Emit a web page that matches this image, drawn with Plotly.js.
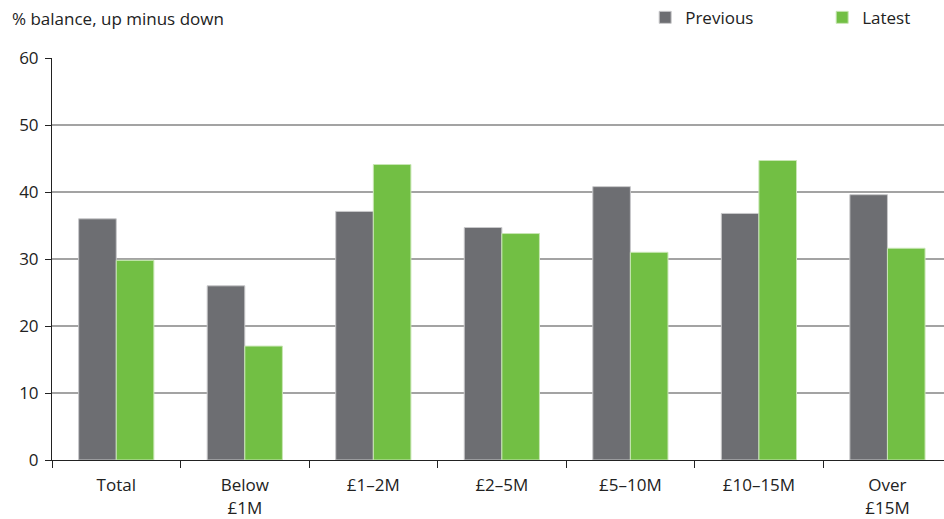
<!DOCTYPE html>
<html><head><meta charset="utf-8">
<script src="https://cdn.plot.ly/plotly-3.0.1.min.js"></script>
<style>html,body{margin:0;padding:0;overflow:hidden;background:#fff}</style>
</head><body><div id="chart" style="width:944px;height:519px"></div>
<script>
const categories = ["Total", "Below<br>£1M", "£1–2M", "£2–5M", "£5–10M", "£10–15M", "Over<br>£15M"];
const previous = [36.0, 26.0, 37.1, 34.7, 40.8, 36.8, 39.6];
const latest = [29.8, 17.0, 44.1, 33.8, 31.0, 44.7, 31.6];

const font = "'Open Sans', 'Noto Sans', sans-serif";
const traces = [
  {type: "bar", name: "Previous", x: categories, y: previous,
   marker: {color: "#6d6e72", line: {color: "#c8c8ca", width: 1}}},
  {type: "bar", name: "Latest", x: categories, y: latest,
   marker: {color: "#72bf44", line: {color: "#c8e6b4", width: 1}}}
];
const layout = {
  width: 944, height: 519,
  margin: {l: 52, r: 0, t: 58, b: 59, autoexpand: false},
  paper_bgcolor: "#fff", plot_bgcolor: "#fff",
  font: {family: font, size: 16, color: "#222"},
  barmode: "group", bargap: 0.415, bargroupgap: 0,
  showlegend: true,
  legend: {orientation: "h", x: 0.665, xanchor: "left", y: 1.1, yanchor: "middle",
           entrywidth: 132, font: {size: 17, color: "#222"}, itemwidth: 30},
  xaxis: {type: "category", range: [-0.5, 6.44], tickson: "boundaries",
          ticks: "outside", ticklen: 7, tickcolor: "#222", tickwidth: 1,
          showline: true, linecolor: "#222", linewidth: 1, showgrid: false,
          ticklabelstandoff: 10,
          tickfont: {size: 17, color: "#222"}},
  yaxis: {range: [0, 60], dtick: 10, ticks: "outside", ticklen: 6, tickcolor: "#222",
          showline: true, linecolor: "#222", linewidth: 1,
          showgrid: true, gridcolor: "#a3a3a3", gridwidth: 1.3,
          zeroline: true, zerolinecolor: "#222", zerolinewidth: 1,
          ticklabelstandoff: 3,
          tickfont: {size: 17, color: "#222"}},
  annotations: [{text: "% balance, up minus down", xref: "paper", yref: "paper",
                 x: 0, xshift: -42, y: 1, yshift: 40, xanchor: "left", yanchor: "middle",
                 showarrow: false, font: {size: 17, color: "#222"}}]
};
Plotly.newPlot("chart", traces, layout, {displayModeBar: false, staticPlot: true});
</script></body></html>
